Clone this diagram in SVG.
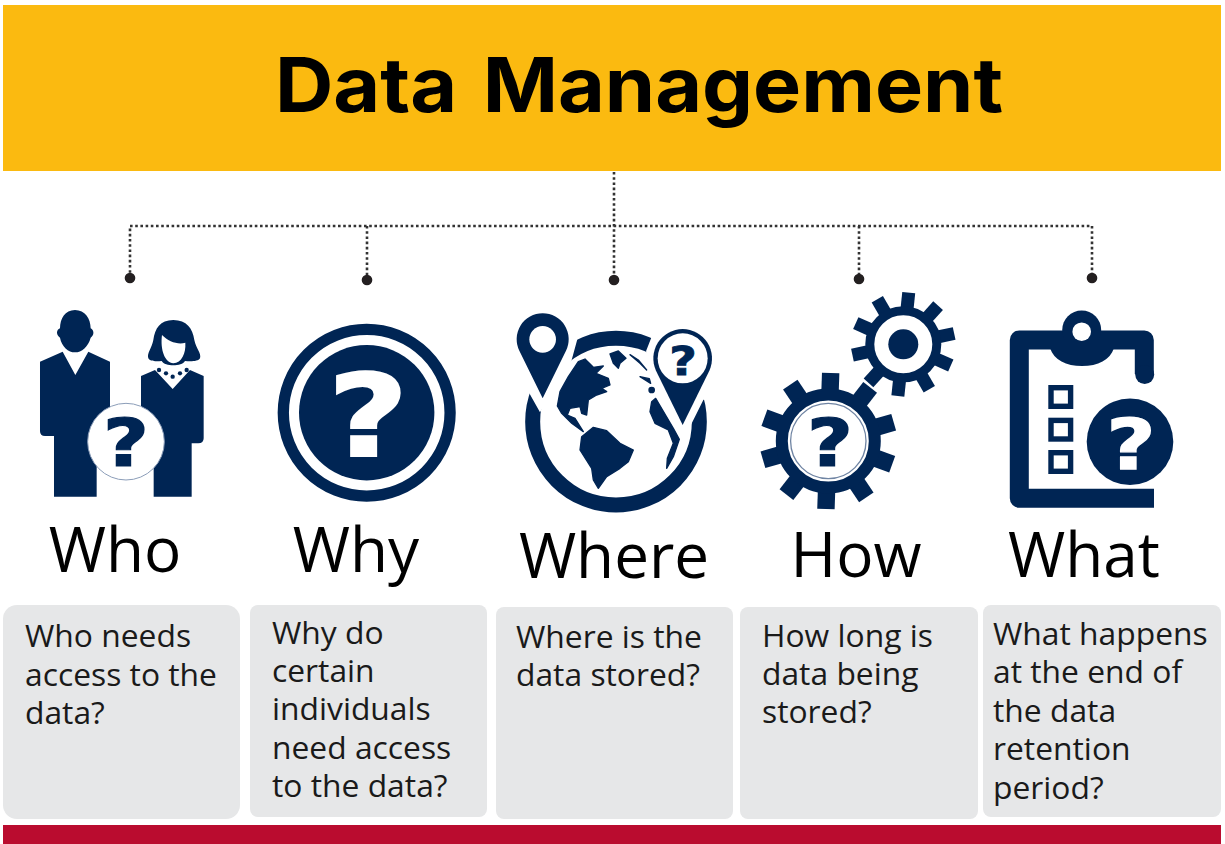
<svg xmlns="http://www.w3.org/2000/svg" width="1225" height="844" viewBox="0 0 1225 844">
<style>
.navy{fill:#002554}
.white{fill:#fff}
.q{font-family:"DejaVu Sans","Liberation Sans",sans-serif;font-weight:700;text-anchor:middle}
.sn{stroke:#002554;stroke-width:1.2}
.sw{stroke:#fff;stroke-width:2}
.lbl{font-family:"Open Sans","Liberation Sans",sans-serif;font-size:62px;fill:#000;text-anchor:middle}
.body{font-family:"Open Sans","Liberation Sans",sans-serif;font-size:31.8px;fill:#1a1a1a}
.box{fill:#e6e7e8}
.dot{fill:#231f20}
.wire{fill:none;stroke:#333;stroke-width:2.6;stroke-dasharray:2.6 2.6}
</style>
<defs>
<rect id="toothS" x="-6.5" y="-52" width="13" height="20" class="navy"/>
<rect id="toothL" x="-8.7" y="-68" width="17.4" height="24" class="navy"/>
</defs>
<g id="header">
<rect x="3" y="5" width="1218" height="166" fill="#fbba10"/>
<text x="275" y="112" font-family="Inter,'Liberation Sans',sans-serif" font-weight="700" font-size="76" word-spacing="6" textLength="728" lengthAdjust="spacingAndGlyphs" fill="#000">Data Management</text>
</g>
<g id="connectors">
<path class="wire" d="M614 172V280M130 278V226H1092V278M367 226V280M859 226V279"/>
<circle class="dot" cx="130" cy="278" r="5.3"/>
<circle class="dot" cx="367" cy="280" r="5.3"/>
<circle class="dot" cx="614" cy="280" r="5.3"/>
<circle class="dot" cx="859" cy="279" r="5.3"/>
<circle class="dot" cx="1092" cy="278" r="5.3"/>
</g>
<g id="node-who">
<g transform="translate(20 290) scale(.33333)">
<path class="navy" d="M165 60C195 60 212 85 212 115C222 120 224 135 212 143C205 170 185 187 165 187C145 187 125 170 120 143C108 135 108 120 120 115C120 85 135 60 165 60Z"/>
<path class="navy" d="M60 215L128 185L166 255L205 185L270 215V438H230V620H102V438H75Q60 438 60 423Z"/>
<path class="navy" d="M460 90C500 90 518 115 523 150C528 175 545 190 540 205C535 215 510 215 495 213C490 222 475 226 460 226C445 226 430 222 425 213C410 215 390 215 385 205C380 190 395 175 400 150C405 115 420 90 460 90Z"/>
<path class="white" d="M426 135C445 155 475 165 496 158C498 190 485 218 460 220C435 218 420 180 426 135Z"/>
<path class="navy" d="M363 258L405 240L458 297L510 240L551 258V445Q551 460 535 460H515V620H401V460H363Z"/>
<g class="navy"><circle cx="417" cy="240" r="6.5"/><circle cx="438" cy="250" r="6.5"/><circle cx="458" cy="260" r="6.5"/><circle cx="480" cy="250" r="6.5"/><circle cx="500" cy="240" r="6.5"/></g>
<circle cx="318" cy="455" r="115" fill="#fff" stroke="#8b9db8" stroke-width="3"/>
</g>
<text class="q navy sn" transform="translate(126 466) scale(1.22 1)" font-size="65">?</text>
<text class="lbl" x="115" y="572">Who</text>
<rect class="box" x="3" y="605" width="237" height="214" rx="14"/>
<text class="body"><tspan x="25" y="647">Who needs</tspan><tspan x="25" y="686">access to the</tspan><tspan x="25" y="724">data?</tspan></text>
</g>
<g id="node-why">
<circle cx="366.7" cy="412.7" r="83.4" fill="none" stroke="#002554" stroke-width="11.3"/>
<circle class="navy" cx="366.7" cy="412.7" r="67.7"/>
<text class="q white sw" transform="translate(368 456) scale(1.22 1)" font-size="114">?</text>
<text class="lbl" x="356" y="572">Why</text>
<rect class="box" x="250" y="605" width="237" height="212" rx="8"/>
<text class="body"><tspan x="272" y="644">Why do</tspan><tspan x="272" y="682">certain</tspan><tspan x="272" y="720">individuals</tspan><tspan x="272" y="759">need access</tspan><tspan x="272" y="797">to the data?</tspan></text>
</g>
<g id="node-where">
<g transform="translate(490 280) scale(.33333)">
<circle cx="378" cy="425" r="250" fill="none" stroke="#002554" stroke-width="45"/>
<path class="white" d="M262 178L245 240L150 397L118 340L90 300L200 130Z"/>
<path class="white" d="M485 170L468 214L600 440L640 360L720 300L600 130Z"/>
<g class="navy" stroke="#002554" stroke-width="4" stroke-linejoin="round">
<path d="M285 237L310 262L340 258L318 280L355 295L360 315L335 325L350 335L320 345L295 360L290 405L275 400L270 380L240 385L232 405L255 415L280 455L245 430L215 400L202 378L210 335L235 290L265 245Z"/>
<path d="M275 470L310 442L350 452L390 490L430 510L415 545L390 565L350 590L325 625L310 600L305 565L270 510Z"/>
<path d="M360 222L385 213L408 235L390 250L385 265L370 250Z"/>
<path d="M420 224L445 240L470 270L450 250Z"/>
<path d="M450 290L478 296L482 310Z"/>
<circle cx="485" cy="330" r="8"/>
<path d="M497 355L550 445L568 478L550 530L530 565L532 535L550 490L535 450L495 430L480 395L485 365Z"/>
</g>
<path class="navy" d="M158 355L88 212A78 78 0 1 1 228 212Z" stroke="#fff" stroke-width="14" paint-order="stroke"/>
<circle class="white" cx="158" cy="178" r="40"/>
<path class="navy" d="M578 435L498 272A88 88 0 1 1 658 272Z" stroke="#fff" stroke-width="14" paint-order="stroke"/>
<circle class="white" cx="578" cy="235" r="75"/>
</g>
<text class="q navy sn" transform="translate(683 375) scale(1.22 1)" font-size="39" style="stroke-width:.8">?</text>
<text class="lbl" x="614" y="578">Where</text>
<rect class="box" x="496" y="607" width="237" height="212" rx="8"/>
<text class="body"><tspan x="516" y="648">Where is the</tspan><tspan x="516" y="686">data stored?</tspan></text>
</g>
<g id="node-how">
<g transform="translate(903.3 344.3)">
<use href="#toothS" transform="rotate(6)"/><use href="#toothS" transform="rotate(42)"/><use href="#toothS" transform="rotate(78)"/><use href="#toothS" transform="rotate(114)"/><use href="#toothS" transform="rotate(150)"/><use href="#toothS" transform="rotate(186)"/><use href="#toothS" transform="rotate(222)"/><use href="#toothS" transform="rotate(258)"/><use href="#toothS" transform="rotate(294)"/><use href="#toothS" transform="rotate(330)"/>
<circle r="33.5" fill="none" stroke="#002554" stroke-width="9"/>
<circle class="navy" r="15"/>
</g>
<g transform="translate(828.3 441)">
<use href="#toothL" transform="rotate(2)"/><use href="#toothL" transform="rotate(38)"/><use href="#toothL" transform="rotate(74)"/><use href="#toothL" transform="rotate(110)"/><use href="#toothL" transform="rotate(146)"/><use href="#toothL" transform="rotate(182)"/><use href="#toothL" transform="rotate(218)"/><use href="#toothL" transform="rotate(254)"/><use href="#toothL" transform="rotate(290)"/><use href="#toothL" transform="rotate(326)"/>
<circle r="46.5" fill="none" stroke="#002554" stroke-width="12"/>
<circle r="37.7" fill="none" stroke="#6f84a3" stroke-width="1.3"/>
</g>
<text class="q navy sn" transform="translate(830 466) scale(1.22 1)" font-size="65">?</text>
<text class="lbl" x="856" y="577">How</text>
<rect class="box" x="740" y="607" width="238" height="212" rx="8"/>
<text class="body"><tspan x="762" y="647">How long is</tspan><tspan x="762" y="685">data being</tspan><tspan x="762" y="723">stored?</tspan></text>
</g>
<g id="node-what">
<path d="M1144.3 374V340H1019.3V498.3H1154" fill="none" stroke="#002554" stroke-width="19" stroke-linejoin="round"/>
<circle cx="1144.7" cy="374.5" r="9.5" class="navy"/>
<circle class="navy" cx="1081.7" cy="330" r="19.5"/>
<path class="navy" d="M1050 340V348C1054 360 1066 366 1082 366C1098 366 1110 360 1114 348V340Z"/>
<circle class="white" cx="1081.7" cy="331.7" r="9.3"/>
<g fill="none" stroke="#002554" stroke-width="5.4">
<rect x="1051" y="387.7" width="19.6" height="18.6"/>
<rect x="1051" y="420.4" width="19.6" height="18.6"/>
<rect x="1051" y="452.7" width="19.6" height="18.6"/>
</g>
<circle class="navy" cx="1130" cy="441.7" r="43.3"/>
<text class="q white sw" transform="translate(1131 469) scale(1.22 1)" font-size="70" style="stroke-width:1.3">?</text>
<text class="lbl" x="1084" y="577">What</text>
<rect class="box" x="983" y="605" width="238" height="212" rx="8"/>
<text class="body"><tspan x="993" y="645">What happens</tspan><tspan x="993" y="683">at the end of</tspan><tspan x="993" y="722">the data</tspan><tspan x="993" y="760">retention</tspan><tspan x="993" y="799">period?</tspan></text>
</g>
<rect id="footer" x="3" y="825" width="1218" height="19" fill="#ba0c2f"/>
</svg>
